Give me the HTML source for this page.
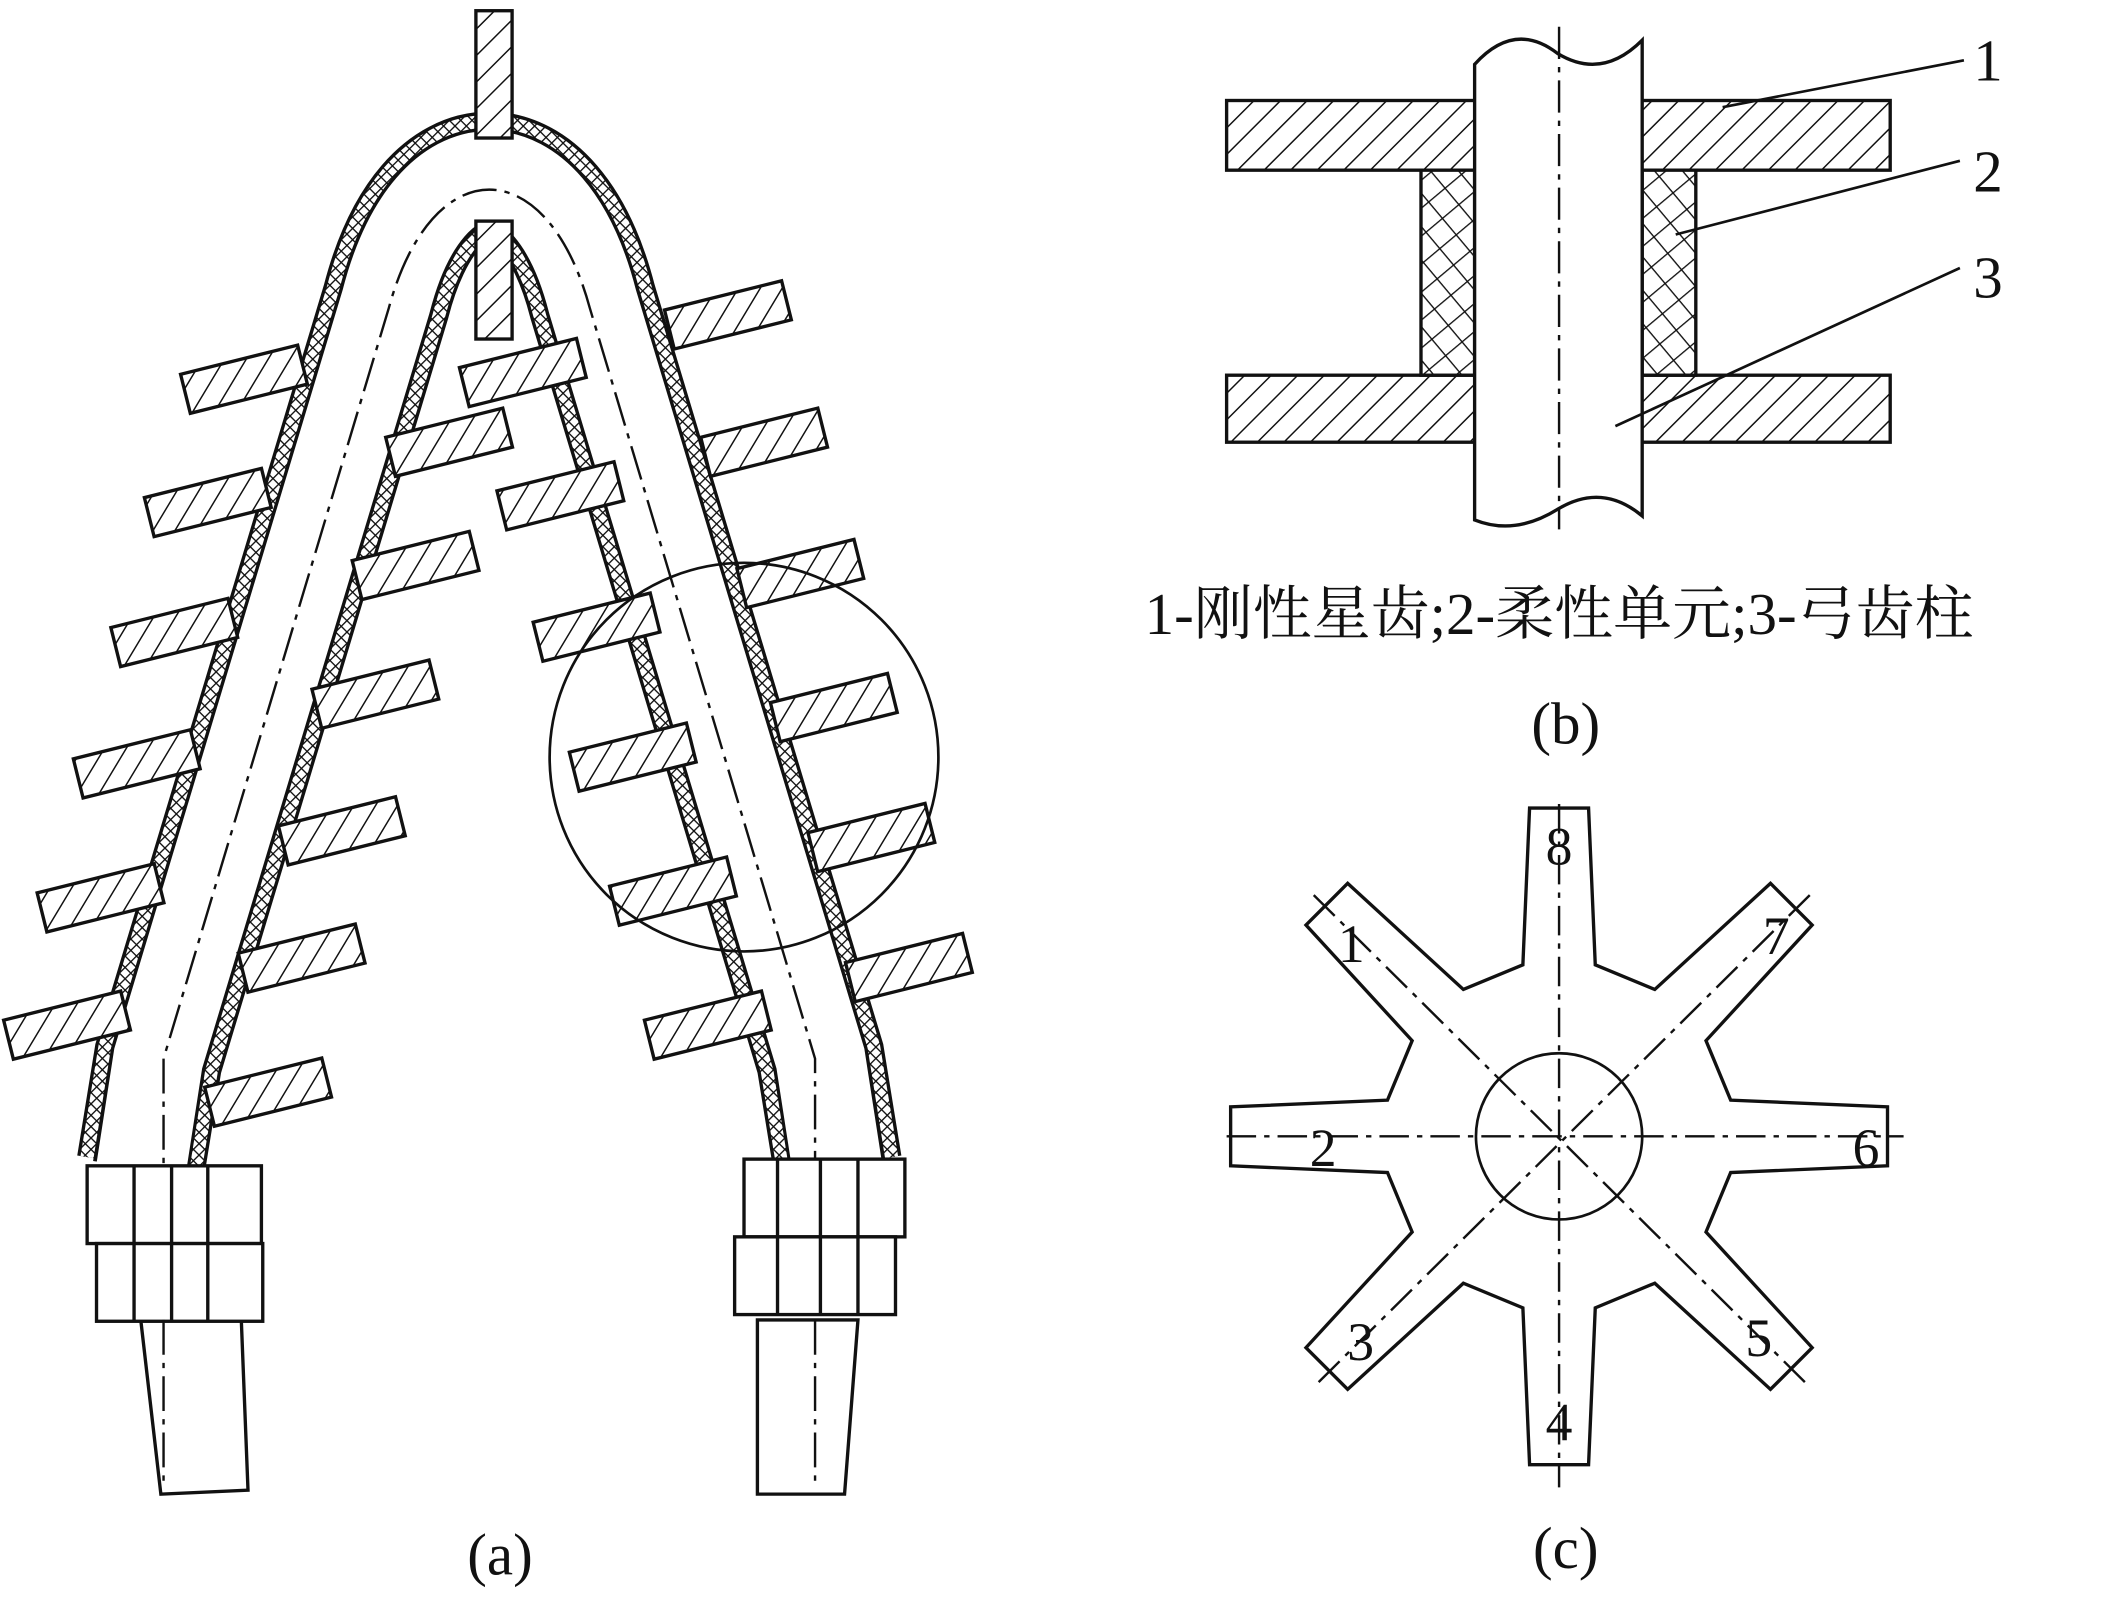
<!DOCTYPE html>
<html><head><meta charset="utf-8"><style>
html,body{margin:0;padding:0;background:#fff;}
svg{display:block}
text{font-family:"Liberation Serif","Noto Serif CJK SC",serif;fill:#111}
</style></head><body>
<svg id="s" width="2102" height="1600" viewBox="0 0 1568 1194" preserveAspectRatio="none" xmlns="http://www.w3.org/2000/svg">
<defs>
<pattern id="h" width="14" height="14" patternUnits="userSpaceOnUse" patternTransform="rotate(45)">
<rect width="14" height="14" fill="#fff"/><line x1="0" y1="0" x2="0" y2="14" stroke="#111" stroke-width="2.2"/></pattern>
<pattern id="x" width="6" height="6" patternUnits="userSpaceOnUse" patternTransform="rotate(45)">
<rect width="6" height="6" fill="#fff"/><line x1="0" y1="0" x2="0" y2="6" stroke="#111" stroke-width="2"/><line x1="0" y1="0" x2="6" y2="0" stroke="#111" stroke-width="2"/></pattern>
<pattern id="x2" width="16" height="16" patternUnits="userSpaceOnUse" patternTransform="rotate(50)">
<rect width="16" height="16" fill="#fff"/><line x1="0" y1="0" x2="0" y2="16" stroke="#111" stroke-width="2"/><line x1="0" y1="0" x2="16" y2="0" stroke="#111" stroke-width="2"/></pattern>
</defs>
<g fill="none" stroke="#111" stroke-width="2.5">
<path d="M105,870 L118,790 L288,225 C320,100 410,100 442,225 L612,790 L625,870" stroke="#111" stroke-width="96"/>
<path d="M105,870 L118,790 L288,225 C320,100 410,100 442,225 L612,790 L625,870" stroke="url(#x)" stroke-width="91"/>
<path d="M105,872 L118,790 L288,225 C320,100 410,100 442,225 L612,790 L625,872" stroke="#111" stroke-width="72"/>
<path d="M105,874 L118,790 L288,225 C320,100 410,100 442,225 L612,790 L625,874" stroke="#fff" stroke-width="67"/>
<path d="M122,1110 L122,790 L290,230 C322,112 408,112 440,230 L608,790 L608,1110" stroke-width="1.8" stroke-dasharray="26,6,4,6"/>
</g>
<rect x="355" y="8" width="27" height="95" fill="url(#h)" stroke="#111" stroke-width="2.5"/>
<rect x="355" y="165" width="27" height="88" fill="url(#h)" stroke="#111" stroke-width="2.5"/>
<g id="teeth"></g>
<circle cx="555" cy="565" r="145" fill="none" stroke="#111" stroke-width="2"/>
<g fill="#fff" stroke="#111" stroke-width="2.5">
<path d="M105,985 L120,1115 L185,1112 L180,985 Z"/>
<path d="M565,985 L565,1115 L630,1115 L640,985 Z"/>
<rect x="65" y="870" width="130" height="58"/><rect x="72" y="928" width="124" height="58"/>
<path d="M100,870V986M155,870V986M128,870V986" />
<rect x="555" y="865" width="120" height="58"/><rect x="548" y="923" width="120" height="58"/>
<path d="M580,865V981M640,865V981M612,865V981"/>
</g>
<path d="M122,985V1110M608,985V1110" stroke="#111" stroke-width="1.8" stroke-dasharray="26,6,4,6"/>
<g stroke="#111" stroke-width="2.5">
<rect x="915" y="75" width="495" height="52" fill="url(#h)"/>
<rect x="915" y="280" width="495" height="50" fill="url(#h)"/>
<rect x="1060" y="127" width="40" height="153" fill="url(#x2)"/>
<rect x="1225" y="127" width="40" height="153" fill="url(#x2)"/>
<path d="M1100,48 Q1130,15 1162,40 Q1195,60 1225,30 L1225,385 Q1195,360 1162,380 Q1130,400 1100,388 Z" fill="#fff"/>
<path d="M1163,20V395" stroke-width="1.8" stroke-dasharray="24,6,4,6"/>
<path d="M1285,80L1465,45M1250,175L1462,120M1205,318L1462,200" stroke-width="2"/>
</g>
<text x="1472" y="60" font-size="44">1</text>
<text x="1472" y="143" font-size="44">2</text>
<text x="1472" y="222" font-size="44">3</text>
<text x="1163" y="473" font-size="44" text-anchor="middle">1-刚性星齿;2-柔性单元;3-弓齿柱</text>
<text x="1168" y="555" font-size="44" text-anchor="middle">(b)</text>
<text x="373" y="1175" font-size="44" text-anchor="middle">(a)</text>
<text x="1168" y="1170" font-size="44" text-anchor="middle">(c)</text>
<polygon id="star" fill="#fff" stroke="#111" stroke-width="2.5"/>
<circle cx="1163" cy="848" r="62" fill="none" stroke="#111" stroke-width="2"/>
<g stroke="#111" stroke-width="1.8" stroke-dasharray="22,6,4,6">
<path d="M1163,600V1110M915,848H1420M980,668L1350,1035M1350,668L980,1035"/>
</g>
<g font-size="40" text-anchor="middle">
<text x="1163" y="645">8</text><text x="1325" y="712">7</text><text x="1392" y="870">6</text>
<text x="1312" y="1012">5</text><text x="1163" y="1075">4</text><text x="1015" y="1015">3</text>
<text x="987" y="870">2</text><text x="1008" y="718">1</text>
</g>
</svg>
<script>
var NS="http://www.w3.org/2000/svg",g=document.getElementById("teeth");
var c=[[182,283],[155,375],[130,472],[102,570],[75,670],[50,765],[335,330],[310,422],[280,518],[255,620],[225,715],[200,815],
[543,235],[570,330],[597,428],[622,528],[650,625],[678,722],[390,278],[418,370],[445,468],[472,565],[502,665],[528,765]];
c.forEach(function(p){var r=document.createElementNS(NS,"rect");r.setAttribute("x",p[0]-45);r.setAttribute("y",p[1]-15);
r.setAttribute("width",90);r.setAttribute("height",30);r.setAttribute("fill","url(#h)");r.setAttribute("stroke","#111");
r.setAttribute("stroke-width","2.5");r.setAttribute("transform","rotate(-14 "+p[0]+" "+p[1]+")");g.appendChild(r);});
var pts=[],cx=1163,cy=848;
for(var i=0;i<8;i++){var a=-Math.PI/2+i*Math.PI/4,dx=Math.cos(a),dy=Math.sin(a),px=-dy,py=dx;
function P(r,w){return (cx+dx*r+px*w).toFixed(1)+","+(cy+dy*r+py*w).toFixed(1);}
pts.push(P(128,-27),P(245,-22),P(245,22),P(128,27));}
document.getElementById("star").setAttribute("points",pts.join(" "));
</script>
</body></html>
